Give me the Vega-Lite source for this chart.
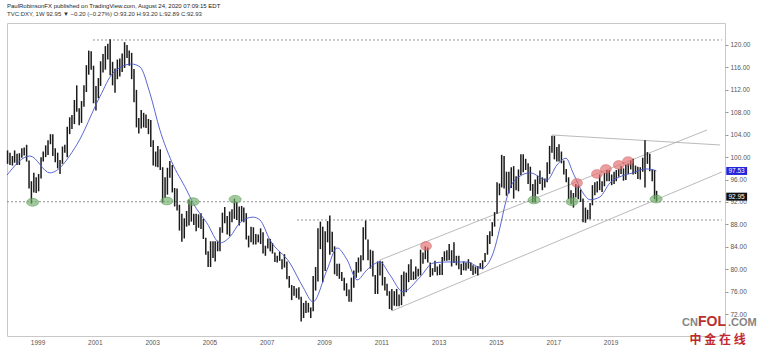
{
  "$schema": "https://vega.github.io/schema/vega-lite/v6.json",
  "width": 718,
  "height": 313,
  "autosize": "none",
  "padding": {"left": 7, "top": 23, "right": 32, "bottom": 16},
  "background": "white",
  "config": {"view": {"stroke": "#c8c8c8", "strokeWidth": 1}, "font": "Liberation Sans"},
  "title": {
    "text": "PaulRobinsonFX published on TradingView.com, August 24, 2020 07:09:15 EDT",
    "subtitle": "TVC:DXY, 1W  92.95 ▼ −0.20 (−0.27%)  O:93.20  H:93.20  L:92.89  C:92.93",
    "anchor": "start", "frame": "group", "fontSize": 6, "fontWeight": "normal", "color": "#222",
    "subtitleFontSize": 6, "subtitleColor": "#333", "offset": 6, "subtitlePadding": 2,
    "font": "Liberation Sans", "subtitleFont": "Liberation Sans"
  },
  "datasets": {
    "candles": [
      {"d":"1997-12-15","v":98.8,"v2":101.2},
      {"d":"1998-01-15","v":98.6,"v2":100.8},{"d":"1998-02-15","v":98.5,"v2":100.2},{"d":"1998-03-15","v":99.0,"v2":101.2},{"d":"1998-04-15","v":98.6,"v2":100.6},{"d":"1998-05-15","v":98.6,"v2":100.7},{"d":"1998-06-15","v":99.9,"v2":101.6},{"d":"1998-07-15","v":100.3,"v2":101.7},{"d":"1998-08-15","v":99.2,"v2":102.2},{"d":"1998-09-15","v":94.4,"v2":99.4},{"d":"1998-10-15","v":91.7,"v2":95.7},{"d":"1998-11-15","v":93.7,"v2":97.2},{"d":"1998-12-15","v":93.6,"v2":96.4},
      {"d":"1999-01-15","v":93.9,"v2":97.0},{"d":"1999-02-15","v":96.2,"v2":100.0},{"d":"1999-03-15","v":99.2,"v2":101.0},{"d":"1999-04-15","v":100.0,"v2":102.1},{"d":"1999-05-15","v":100.4,"v2":103.0},{"d":"1999-06-15","v":102.3,"v2":104.1},{"d":"1999-07-15","v":100.2,"v2":104.1},{"d":"1999-08-15","v":99.1,"v2":101.6},{"d":"1999-09-15","v":98.0,"v2":100.8},{"d":"1999-10-15","v":97.0,"v2":99.5},{"d":"1999-11-15","v":98.8,"v2":101.9},{"d":"1999-12-15","v":100.8,"v2":102.2},
      {"d":"2000-01-15","v":100.0,"v2":105.4},{"d":"2000-02-15","v":104.1,"v2":107.1},{"d":"2000-03-15","v":105.0,"v2":107.5},{"d":"2000-04-15","v":105.9,"v2":110.2},{"d":"2000-05-15","v":108.1,"v2":112.8},{"d":"2000-06-15","v":105.7,"v2":108.7},{"d":"2000-07-15","v":106.1,"v2":110.0},{"d":"2000-08-15","v":109.0,"v2":112.8},{"d":"2000-09-15","v":111.6,"v2":116.4},{"d":"2000-10-15","v":114.7,"v2":119.0},{"d":"2000-11-15","v":115.6,"v2":118.9},{"d":"2000-12-15","v":109.6,"v2":116.3},
      {"d":"2001-01-15","v":108.3,"v2":112.7},{"d":"2001-02-15","v":110.5,"v2":114.1},{"d":"2001-03-15","v":112.7,"v2":117.1},{"d":"2001-04-15","v":115.1,"v2":118.4},{"d":"2001-05-15","v":115.6,"v2":119.8},{"d":"2001-06-15","v":117.4,"v2":120.2},{"d":"2001-07-15","v":114.6,"v2":121.0},{"d":"2001-08-15","v":112.8,"v2":117.0},{"d":"2001-09-15","v":111.5,"v2":115.8},{"d":"2001-10-15","v":113.9,"v2":117.4},{"d":"2001-11-15","v":114.4,"v2":117.6},{"d":"2001-12-15","v":115.2,"v2":118.5},
      {"d":"2002-01-15","v":115.9,"v2":120.5},{"d":"2002-02-15","v":117.7,"v2":120.0},{"d":"2002-03-15","v":116.3,"v2":119.0},{"d":"2002-04-15","v":113.9,"v2":118.6},{"d":"2002-05-15","v":109.8,"v2":115.7},{"d":"2002-06-15","v":105.3,"v2":112.0},{"d":"2002-07-15","v":104.2,"v2":107.0},{"d":"2002-08-15","v":105.1,"v2":108.4},{"d":"2002-09-15","v":105.3,"v2":107.9},{"d":"2002-10-15","v":105.2,"v2":107.6},{"d":"2002-11-15","v":104.1,"v2":106.8},{"d":"2002-12-15","v":101.8,"v2":106.6},
      {"d":"2003-01-15","v":98.5,"v2":103.0},{"d":"2003-02-15","v":98.3,"v2":101.0},{"d":"2003-03-15","v":98.2,"v2":102.0},{"d":"2003-04-15","v":97.7,"v2":101.4},{"d":"2003-05-15","v":91.9,"v2":98.2},{"d":"2003-06-15","v":92.7,"v2":96.4},{"d":"2003-07-15","v":93.3,"v2":98.1},{"d":"2003-08-15","v":96.3,"v2":99.3},{"d":"2003-09-15","v":93.7,"v2":98.6},{"d":"2003-10-15","v":91.2,"v2":94.5},{"d":"2003-11-15","v":90.5,"v2":94.4},{"d":"2003-12-15","v":86.9,"v2":91.5},
      {"d":"2004-01-15","v":84.9,"v2":89.9},{"d":"2004-02-15","v":85.5,"v2":89.1},{"d":"2004-03-15","v":87.6,"v2":90.4},{"d":"2004-04-15","v":87.8,"v2":92.4},{"d":"2004-05-15","v":88.5,"v2":92.2},{"d":"2004-06-15","v":87.9,"v2":89.9},{"d":"2004-07-15","v":86.8,"v2":89.9},{"d":"2004-08-15","v":87.4,"v2":89.8},{"d":"2004-09-15","v":87.2,"v2":90.0},{"d":"2004-10-15","v":85.4,"v2":89.0},{"d":"2004-11-15","v":82.6,"v2":85.6},{"d":"2004-12-15","v":80.4,"v2":83.2},
      {"d":"2005-01-15","v":80.4,"v2":85.0},{"d":"2005-02-15","v":82.0,"v2":85.0},{"d":"2005-03-15","v":81.4,"v2":85.0},{"d":"2005-04-15","v":83.2,"v2":85.1},{"d":"2005-05-15","v":83.2,"v2":87.5},{"d":"2005-06-15","v":86.5,"v2":90.1},{"d":"2005-07-15","v":88.2,"v2":91.1},{"d":"2005-08-15","v":86.2,"v2":89.5},{"d":"2005-09-15","v":85.9,"v2":90.3},{"d":"2005-10-15","v":88.4,"v2":90.7},{"d":"2005-11-15","v":89.0,"v2":92.6},{"d":"2005-12-15","v":88.8,"v2":92.0},
      {"d":"2006-01-15","v":87.8,"v2":91.2},{"d":"2006-02-15","v":88.6,"v2":91.3},{"d":"2006-03-15","v":88.4,"v2":91.0},{"d":"2006-04-15","v":85.3,"v2":90.0},{"d":"2006-05-15","v":83.9,"v2":86.0},{"d":"2006-06-15","v":84.8,"v2":87.6},{"d":"2006-07-15","v":84.4,"v2":87.5},{"d":"2006-08-15","v":84.4,"v2":86.3},{"d":"2006-09-15","v":84.8,"v2":86.2},{"d":"2006-10-15","v":84.5,"v2":87.3},{"d":"2006-11-15","v":82.8,"v2":86.6},{"d":"2006-12-15","v":82.4,"v2":84.2},
      {"d":"2007-01-15","v":83.7,"v2":85.5},{"d":"2007-02-15","v":83.2,"v2":85.4},{"d":"2007-03-15","v":82.8,"v2":84.7},{"d":"2007-04-15","v":81.3,"v2":83.0},{"d":"2007-05-15","v":81.2,"v2":82.4},{"d":"2007-06-15","v":81.5,"v2":83.1},{"d":"2007-07-15","v":80.0,"v2":81.8},{"d":"2007-08-15","v":80.3,"v2":82.7},{"d":"2007-09-15","v":78.2,"v2":81.4},{"d":"2007-10-15","v":76.7,"v2":78.8},{"d":"2007-11-15","v":74.5,"v2":77.2},{"d":"2007-12-15","v":75.3,"v2":77.0},
      {"d":"2008-01-15","v":74.9,"v2":76.6},{"d":"2008-02-15","v":74.6,"v2":76.8},{"d":"2008-03-15","v":70.7,"v2":75.1},{"d":"2008-04-15","v":71.3,"v2":74.0},{"d":"2008-05-15","v":72.2,"v2":74.4},{"d":"2008-06-15","v":72.3,"v2":74.0},{"d":"2008-07-15","v":71.3,"v2":73.2},{"d":"2008-08-15","v":72.5,"v2":78.8},{"d":"2008-09-15","v":76.2,"v2":80.4},{"d":"2008-10-15","v":77.8,"v2":87.3},{"d":"2008-11-15","v":83.6,"v2":88.5},{"d":"2008-12-15","v":77.7,"v2":87.6},
      {"d":"2009-01-15","v":79.7,"v2":86.8},{"d":"2009-02-15","v":84.8,"v2":88.6},{"d":"2009-03-15","v":82.6,"v2":89.6},{"d":"2009-04-15","v":83.1,"v2":86.7},{"d":"2009-05-15","v":79.1,"v2":84.1},{"d":"2009-06-15","v":78.8,"v2":81.0},{"d":"2009-07-15","v":78.3,"v2":81.0},{"d":"2009-08-15","v":77.9,"v2":79.5},{"d":"2009-09-15","v":76.2,"v2":78.5},{"d":"2009-10-15","v":75.2,"v2":77.5},{"d":"2009-11-15","v":74.2,"v2":76.4},{"d":"2009-12-15","v":74.2,"v2":78.5},
      {"d":"2010-01-15","v":76.7,"v2":79.8},{"d":"2010-02-15","v":78.5,"v2":81.3},{"d":"2010-03-15","v":79.4,"v2":82.1},{"d":"2010-04-15","v":79.6,"v2":82.5},{"d":"2010-05-15","v":81.6,"v2":87.5},{"d":"2010-06-15","v":85.3,"v2":88.7},{"d":"2010-07-15","v":81.6,"v2":85.3},{"d":"2010-08-15","v":80.1,"v2":83.5},{"d":"2010-09-15","v":78.7,"v2":83.3},{"d":"2010-10-15","v":75.6,"v2":79.0},{"d":"2010-11-15","v":75.6,"v2":81.4},{"d":"2010-12-15","v":78.9,"v2":81.5},
      {"d":"2011-01-15","v":77.1,"v2":81.4},{"d":"2011-02-15","v":76.2,"v2":78.6},{"d":"2011-03-15","v":75.3,"v2":77.4},{"d":"2011-04-15","v":72.9,"v2":76.1},{"d":"2011-05-15","v":72.7,"v2":76.5},{"d":"2011-06-15","v":73.5,"v2":76.1},{"d":"2011-07-15","v":73.4,"v2":76.5},{"d":"2011-08-15","v":73.4,"v2":75.5},{"d":"2011-09-15","v":73.6,"v2":79.0},{"d":"2011-10-15","v":75.2,"v2":79.6},{"d":"2011-11-15","v":75.9,"v2":79.4},{"d":"2011-12-15","v":77.7,"v2":80.9},
      {"d":"2012-01-15","v":78.1,"v2":81.8},{"d":"2012-02-15","v":78.1,"v2":79.6},{"d":"2012-03-15","v":78.2,"v2":80.5},{"d":"2012-04-15","v":78.7,"v2":80.1},{"d":"2012-05-15","v":78.9,"v2":83.5},{"d":"2012-06-15","v":81.0,"v2":83.0},{"d":"2012-07-15","v":81.8,"v2":84.1},{"d":"2012-08-15","v":81.2,"v2":83.9},{"d":"2012-09-15","v":78.6,"v2":81.2},{"d":"2012-10-15","v":78.9,"v2":80.2},{"d":"2012-11-15","v":79.5,"v2":81.5},{"d":"2012-12-15","v":78.9,"v2":80.5},
      {"d":"2013-01-15","v":79.0,"v2":80.9},{"d":"2013-02-15","v":79.0,"v2":82.2},{"d":"2013-03-15","v":81.5,"v2":83.2},{"d":"2013-04-15","v":81.5,"v2":83.4},{"d":"2013-05-15","v":81.6,"v2":84.5},{"d":"2013-06-15","v":80.5,"v2":83.4},{"d":"2013-07-15","v":81.1,"v2":84.8},{"d":"2013-08-15","v":80.7,"v2":82.4},{"d":"2013-09-15","v":80.0,"v2":82.4},{"d":"2013-10-15","v":79.0,"v2":81.0},{"d":"2013-11-15","v":79.8,"v2":81.4},{"d":"2013-12-15","v":79.8,"v2":81.2},
      {"d":"2014-01-15","v":80.1,"v2":81.8},{"d":"2014-02-15","v":79.7,"v2":81.2},{"d":"2014-03-15","v":79.0,"v2":80.7},{"d":"2014-04-15","v":79.2,"v2":80.5},{"d":"2014-05-15","v":78.9,"v2":80.6},{"d":"2014-06-15","v":80.1,"v2":81.1},{"d":"2014-07-15","v":80.0,"v2":81.6},{"d":"2014-08-15","v":81.3,"v2":82.9},{"d":"2014-09-15","v":82.6,"v2":86.1},{"d":"2014-10-15","v":84.5,"v2":86.8},{"d":"2014-11-15","v":85.9,"v2":88.4},{"d":"2014-12-15","v":87.6,"v2":90.2},
      {"d":"2015-01-15","v":89.9,"v2":95.5},{"d":"2015-02-15","v":93.2,"v2":95.3},{"d":"2015-03-15","v":94.6,"v2":100.4},{"d":"2015-04-15","v":94.4,"v2":100.2},{"d":"2015-05-15","v":93.1,"v2":97.4},{"d":"2015-06-15","v":93.5,"v2":97.4},{"d":"2015-07-15","v":94.5,"v2":98.2},{"d":"2015-08-15","v":92.6,"v2":98.4},{"d":"2015-09-15","v":94.1,"v2":96.6},{"d":"2015-10-15","v":93.9,"v2":97.8},{"d":"2015-11-15","v":96.8,"v2":100.5},{"d":"2015-12-15","v":97.3,"v2":100.5},
      {"d":"2016-01-15","v":97.7,"v2":99.7},{"d":"2016-02-15","v":95.2,"v2":98.9},{"d":"2016-03-15","v":94.0,"v2":98.3},{"d":"2016-04-15","v":91.9,"v2":95.2},{"d":"2016-05-15","v":91.9,"v2":96.0},{"d":"2016-06-15","v":93.4,"v2":96.7},{"d":"2016-07-15","v":95.2,"v2":97.6},{"d":"2016-08-15","v":94.1,"v2":96.4},{"d":"2016-09-15","v":94.6,"v2":96.2},{"d":"2016-10-15","v":95.5,"v2":99.1},{"d":"2016-11-15","v":97.0,"v2":102.0},{"d":"2016-12-15","v":100.8,"v2":103.8},
      {"d":"2017-01-15","v":99.6,"v2":103.8},{"d":"2017-02-15","v":99.2,"v2":101.8},{"d":"2017-03-15","v":99.2,"v2":102.3},{"d":"2017-04-15","v":98.9,"v2":101.0},{"d":"2017-05-15","v":96.9,"v2":99.4},{"d":"2017-06-15","v":95.5,"v2":97.9},{"d":"2017-07-15","v":92.5,"v2":96.4},{"d":"2017-08-15","v":91.6,"v2":94.1},{"d":"2017-09-15","v":91.0,"v2":93.6},{"d":"2017-10-15","v":92.8,"v2":95.2},{"d":"2017-11-15","v":92.5,"v2":95.0},{"d":"2017-12-15","v":92.0,"v2":94.2},
      {"d":"2018-01-15","v":88.4,"v2":92.6},{"d":"2018-02-15","v":88.3,"v2":91.0},{"d":"2018-03-15","v":88.9,"v2":90.6},{"d":"2018-04-15","v":88.9,"v2":91.8},{"d":"2018-05-15","v":91.4,"v2":95.0},{"d":"2018-06-15","v":93.2,"v2":95.5},{"d":"2018-07-15","v":93.7,"v2":95.7},{"d":"2018-08-15","v":94.1,"v2":96.9},{"d":"2018-09-15","v":93.8,"v2":95.7},{"d":"2018-10-15","v":94.8,"v2":97.2},{"d":"2018-11-15","v":95.7,"v2":97.7},{"d":"2018-12-15","v":95.7,"v2":97.7},
      {"d":"2019-01-15","v":95.0,"v2":96.9},{"d":"2019-02-15","v":95.2,"v2":97.4},{"d":"2019-03-15","v":95.7,"v2":97.7},{"d":"2019-04-15","v":96.5,"v2":97.9},{"d":"2019-05-15","v":97.0,"v2":98.4},{"d":"2019-06-15","v":95.8,"v2":98.0},{"d":"2019-07-15","v":95.9,"v2":98.7},{"d":"2019-08-15","v":97.0,"v2":98.9},{"d":"2019-09-15","v":97.8,"v2":99.4},{"d":"2019-10-15","v":96.9,"v2":99.7},{"d":"2019-11-15","v":97.0,"v2":98.5},{"d":"2019-12-15","v":96.1,"v2":98.3},
      {"d":"2020-01-15","v":96.0,"v2":98.2},{"d":"2020-02-15","v":97.4,"v2":99.9},{"d":"2020-03-15","v":94.6,"v2":103.0},{"d":"2020-04-15","v":98.8,"v2":100.9},{"d":"2020-05-15","v":97.5,"v2":100.6},{"d":"2020-06-15","v":95.7,"v2":97.8},{"d":"2020-07-15","v":92.5,"v2":97.7},{"d":"2020-08-10","v":92.1,"v2":94.0}
    ],
    "ma": [
      {"d":"1997-12-08","v":96.8},{"d":"1998-09-26","v":100.2},{"d":"1999-06-08","v":97.2},{"d":"2000-05-15","v":102.2},{"d":"2001-03-07","v":110.8},{"d":"2001-08-20","v":115.0},{"d":"2002-04-15","v":116.6},{"d":"2002-07-30","v":116.1},{"d":"2002-12-04","v":111.4},{"d":"2003-04-11","v":104.8},{"d":"2003-09-07","v":99.2},{"d":"2004-03-17","v":94.1},{"d":"2004-06-06","v":91.8},{"d":"2004-11-27","v":88.3},{"d":"2005-05-16","v":84.7},{"d":"2005-09-20","v":85.8},{"d":"2006-01-25","v":88.3},{"d":"2006-07-09","v":89.3},{"d":"2006-10-06","v":88.8},{"d":"2007-02-12","v":85.2},{"d":"2007-10-24","v":81.1},{"d":"2008-04-08","v":76.8},{"d":"2008-08-13","v":74.2},{"d":"2009-02-08","v":79.9},{"d":"2009-06-15","v":83.8},{"d":"2009-10-21","v":81.7},{"d":"2010-02-26","v":78.1},{"d":"2010-07-02","v":79.9},{"d":"2010-12-14","v":81.3},{"d":"2011-04-20","v":79.0},{"d":"2011-10-03","v":76.0},{"d":"2012-05-08","v":78.6},{"d":"2012-10-21","v":81.1},{"d":"2013-04-16","v":81.3},{"d":"2013-12-27","v":81.3},{"d":"2014-07-06","v":80.2},{"d":"2014-11-24","v":82.8},{"d":"2015-02-22","v":87.5},{"d":"2015-04-27","v":91.5},{"d":"2015-06-29","v":94.5},{"d":"2015-11-03","v":96.6},{"d":"2016-03-10","v":97.2},{"d":"2016-10-12","v":95.9},{"d":"2017-02-17","v":98.6},{"d":"2017-06-13","v":99.8},{"d":"2017-09-10","v":97.2},{"d":"2018-01-16","v":93.6},{"d":"2018-04-13","v":92.4},{"d":"2018-08-18","v":92.9},{"d":"2018-12-24","v":95.4},{"d":"2019-05-01","v":96.5},{"d":"2019-10-14","v":97.2},{"d":"2020-03-15","v":97.9},{"d":"2020-06-13","v":97.8},{"d":"2020-08-07","v":97.53}
    ],
    "hlines": [
      {"d":"2000-12-08","d2":"2022-11-20","v":120.89},
      {"d":"1997-12-08","d2":"2022-11-20","v":92.05},
      {"d":"2008-01-22","d2":"2022-11-20","v":88.79}
    ],
    "tlines": [
      {"d":"2010-12-14","v":81.65,"d2":"2022-05-15","v2":104.84},
      {"d":"2011-05-15","v":72.56,"d2":"2022-11-20","v2":97.35},
      {"d":"2016-12-17","v":103.95,"d2":"2022-10-26","v2":102.17}
    ],
    "greens": [
      {"d":"1998-10-31","v":91.95},{"d":"2003-07-08","v":92.18},{"d":"2004-06-06","v":92.05},{"d":"2005-11-24","v":92.48},{"d":"2016-05-01","v":92.36},{"d":"2017-08-29","v":92.05},{"d":"2020-08-04","v":92.53}
    ],
    "reds": [
      {"d":"2012-07-24","v":84.15},{"d":"2017-10-30","v":95.39},{"d":"2018-07-12","v":96.99},{"d":"2018-11-03","v":97.88},{"d":"2019-04-16","v":98.6},{"d":"2019-08-12","v":99.3}
    ],
    "boxes": [
      {"d":"2023-01-15","d2":"2023-10-08","v":96.82,"v2":98.24,"k":"ma","t":"97.53","c":"2023-05-27","m":97.53},
      {"d":"2023-01-15","d2":"2023-10-08","v":92.24,"v2":93.66,"k":"price","t":"92.95","c":"2023-05-27","m":92.95}
    ]
  },
  "encoding": {
    "x": {
      "field": "d", "type": "temporal",
      "scale": {"domain": [{"year":1997,"month":12,"date":8},{"year":2022,"month":12,"date":30}]},
      "axis": {
        "values": [{"year":1999,"month":1,"date":1},{"year":2001,"month":1,"date":1},{"year":2003,"month":1,"date":1},{"year":2005,"month":1,"date":1},{"year":2007,"month":1,"date":1},{"year":2009,"month":1,"date":1},{"year":2011,"month":1,"date":1},{"year":2013,"month":1,"date":1},{"year":2015,"month":1,"date":1},{"year":2017,"month":1,"date":1},{"year":2019,"month":1,"date":1}],
        "format": "%Y", "labelFontSize": 6.5, "labelColor": "#555", "ticks": false, "domain": false, "grid": false,
        "title": null, "labelPadding": 3, "labelFlush": false, "labelOverlap": false
      }
    },
    "y": {
      "field": "v", "type": "quantitative",
      "scale": {"domain": [68.1, 123.92], "nice": false, "zero": false},
      "axis": {
        "orient": "right", "values": [72,76,80,84,88,92,96,100,104,108,112,116,120], "format": ".2f",
        "labelFontSize": 6.5, "labelColor": "#555", "tickColor": "#999", "tickSize": 3, "labelPadding": 2,
        "domain": false, "grid": false, "title": null
      }
    }
  },
  "layer": [
    {"data": {"name": "hlines"}, "mark": {"type": "rule", "stroke": "#777", "strokeDash": [2, 2], "strokeWidth": 0.8}, "encoding": {"x2": {"field": "d2"}}},
    {"data": {"name": "tlines"}, "mark": {"type": "rule", "stroke": "#a8a8a8", "strokeWidth": 0.8}, "encoding": {"x2": {"field": "d2"}, "y2": {"field": "v2"}}},
    {"data": {"name": "candles"}, "mark": {"type": "rule", "stroke": "#1a1a1a", "strokeWidth": 1.5}, "encoding": {"y2": {"field": "v2"}}},
    {"data": {"name": "ma"}, "mark": {"type": "line", "stroke": "#4656cc", "strokeWidth": 0.9, "interpolate": "monotone"}, "encoding": {}},
    {"data": {"name": "greens"}, "mark": {"type": "point", "filled": true, "shape": "M -1 0 C -1 -0.36 -0.55 -0.65 0 -0.65 C 0.55 -0.65 1 -0.36 1 0 C 1 0.36 0.55 0.65 0 0.65 C -0.55 0.65 -1 0.36 -1 0 Z", "size": 144, "fill": "#6fae69", "fillOpacity": 0.65, "stroke": "#4f8f4a", "strokeWidth": 0.6, "strokeOpacity": 0.8}, "encoding": {}},
    {"data": {"name": "reds"}, "mark": {"type": "point", "filled": true, "shape": "M -1 0 C -1 -0.44 -0.55 -0.8 0 -0.8 C 0.55 -0.8 1 -0.44 1 0 C 1 0.44 0.55 0.8 0 0.8 C -0.55 0.8 -1 0.44 -1 0 Z", "size": 121, "fill": "#e36a6a", "fillOpacity": 0.65, "stroke": "#c85050", "strokeWidth": 0.5, "strokeOpacity": 0.7}, "encoding": {}},
    {"data": {"name": "boxes"}, "mark": {"type": "rect"}, "encoding": {"x2": {"field": "d2"}, "y2": {"field": "v2"}, "color": {"field": "k", "type": "nominal", "scale": {"domain": ["ma", "price"], "range": ["#2424d8", "#111111"]}, "legend": null}}},
    {"data": {"name": "boxes"}, "mark": {"type": "text", "color": "white", "fontSize": 6.5, "baseline": "middle", "align": "center"}, "encoding": {"x": {"field": "c", "type": "temporal"}, "y": {"field": "m", "type": "quantitative"}, "text": {"field": "t"}}},
    {"data": {"values": [{"d": "2021-07-01", "v": 69.9, "t": "CN"}]}, "mark": {"type": "text", "align": "left", "baseline": "alphabetic", "fontSize": 11, "fontWeight": "bold", "color": "#858585"}, "encoding": {"text": {"field": "t"}}},
    {"data": {"values": [{"d": "2022-01-20", "v": 69.9, "t": "FOL"}]}, "mark": {"type": "text", "align": "left", "baseline": "alphabetic", "fontSize": 14, "fontWeight": "bold", "color": "#b8312f"}, "encoding": {"text": {"field": "t"}}},
    {"data": {"values": [{"d": "2023-02-05", "v": 69.9, "t": ".COM"}]}, "mark": {"type": "text", "align": "left", "baseline": "alphabetic", "fontSize": 11, "fontWeight": "bold", "color": "#858585"}, "encoding": {"text": {"field": "t"}}},
    {"data": {"values": [{"d": "2022-09-26", "v": 67.45, "t": "中 金 在 线"}]}, "mark": {"type": "text", "align": "center", "baseline": "middle", "fontSize": 12, "fontWeight": "bold", "font": "Noto Sans CJK SC", "color": "#c0282d"}, "encoding": {"text": {"field": "t"}}}
  ]
}
